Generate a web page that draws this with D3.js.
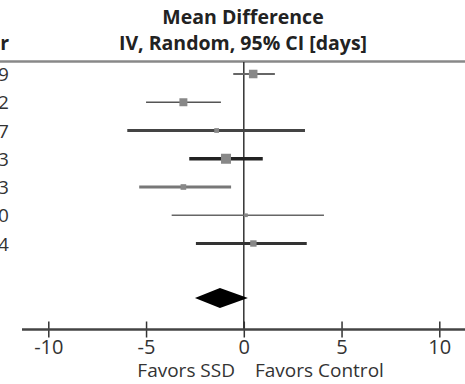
<!DOCTYPE html>
<html>
<head>
<meta charset="utf-8">
<script src="https://cdn.jsdelivr.net/npm/d3@7"></script>
<style>
    html, body { margin: 0; padding: 0; background: #fff; }
    svg { display: block; font-family: "Open Sans", "DejaVu Sans", sans-serif; }
</style>
</head>
<body>
<svg id="chart" width="465" height="384"></svg>
<script>
    "use strict";

    // study rows (only the last digit of the year survives at the left edge)
    var years = ["2009", "2012", "2007", "2013", "2013", "2010", "2014"];
    var means = [0.48, -3.09, -1.39, -0.91, -3.09, 0.11, 0.49];
    var lowers = [-0.54, -5.0, -5.96, -2.79, -5.35, -3.69, -2.45];
    var uppers = [1.59, -1.17, 3.13, 0.97, -0.65, 4.10, 3.22];
    var weights = [16, 14, 5, 22, 7, 3, 9];

    // pooled estimate
    var pooled = { mean: -1.22, lower: -2.50, upper: 0.21 };

    var tickValues = [-10, -5, 0, 5, 10];
    var headerLines = ["Mean Difference", "IV, Random, 95% CI [days]"];
    var favorLeft = "Favors SSD";
    var favorRight = "Favors Control";

    // how heavy each CI line is drawn in the picture
    var lineWidths = [2, 1.6, 3, 3.5, 3, 1.5, 3];
    var lineColors = ["#666", "#555", "#444", "#222", "#777", "#666", "#333"];

    var svg = d3.select("#chart");

    var x = d3.scaleLinear().domain([-10, 10]).range([48.3, 439.3]);
    var y = d3.scaleLinear().domain([0, 8]).range([74, 300]);
    var side = d3.scaleSqrt().domain([0, d3.max(weights)]).range([0, 10]);

    var rows = years.map(function (yr, i) {
        return { year: yr, mean: means[i], lower: lowers[i], upper: uppers[i], weight: weights[i], i: i };
    });

    // header
    var header = svg.append("g")
        .attr("font-weight", "bold")
        .attr("font-size", 19.5)
        .attr("fill", "#222");
    header.selectAll("text")
        .data(headerLines)
        .enter()
        .append("text")
        .attr("x", 243)
        .attr("y", function (d, i) { return 24 + i * 26; })
        .attr("text-anchor", "middle")
        .text(function (d) { return d; });
    header.append("text")
        .attr("x", 9)
        .attr("y", 50)
        .attr("text-anchor", "end")
        .text("Year");

    svg.append("line")
        .attr("x1", 0).attr("x2", 465)
        .attr("y1", 61.5).attr("y2", 61.5)
        .attr("stroke", "#888")
        .attr("stroke-width", 2.5);

    // zero line
    svg.append("line")
        .attr("x1", x(0)).attr("x2", x(0))
        .attr("y1", 62).attr("y2", 330)
        .attr("stroke", "#333")
        .attr("stroke-width", 1.5);

    // year labels, cut off at the left edge
    svg.append("g")
        .attr("font-size", 19)
        .attr("fill", "#333")
        .selectAll("text")
        .data(rows)
        .enter()
        .append("text")
        .attr("x", 9)
        .attr("y", function (d) { return y(d.i) + 7; })
        .attr("text-anchor", "end")
        .text(function (d) { return d.year; });

    var row = svg.append("g")
        .selectAll("g")
        .data(rows)
        .enter()
        .append("g");

    row.append("line")
        .attr("x1", function (d) { return x(d.lower); })
        .attr("x2", function (d) { return x(d.upper); })
        .attr("y1", function (d) { return y(d.i); })
        .attr("y2", function (d) { return y(d.i); })
        .attr("stroke", function (d) { return lineColors[d.i]; })
        .attr("stroke-width", function (d) { return lineWidths[d.i]; });

    row.append("rect")
        .attr("x", function (d) { return x(d.mean) - side(d.weight) / 2; })
        .attr("y", function (d) { return y(d.i) - side(d.weight) / 2; })
        .attr("width", function (d) { return side(d.weight); })
        .attr("height", function (d) { return side(d.weight); })
        .attr("fill", "#888");

    // pooled diamond
    var dy = y(8) - 2;
    svg.append("path")
        .attr("d", "M" + x(pooled.lower) + "," + dy +
            "L" + x(pooled.mean) + "," + (dy - 10) +
            "L" + x(pooled.upper) + "," + dy +
            "L" + x(pooled.mean) + "," + (dy + 10) + "Z")
        .attr("fill", "#000");

    // bottom axis
    var axisY = 329.5;
    var axis = svg.append("g")
        .attr("transform", "translate(0," + axisY + ")")
        .call(d3.axisBottom(x).tickValues(tickValues).tickSize(0)
            .tickFormat(function (d) { return d < 0 ? "-" + Math.abs(d) : d; }));
    axis.select(".domain").remove();
    axis.append("line")
        .attr("x1", 22).attr("x2", 465)
        .attr("stroke", "#444")
        .attr("stroke-width", 2.5);
    axis.selectAll(".tick").append("line")
        .attr("y1", -8).attr("y2", 8)
        .attr("stroke", "#333")
        .attr("stroke-width", 1.5);
    axis.selectAll(".tick text")
        .attr("y", 10)
        .attr("font-size", 20)
        .attr("font-family", "Open Sans, sans-serif")
        .attr("fill", "#333");

    svg.append("g")
        .attr("font-size", 19)
        .attr("fill", "#333")
        .selectAll("text")
        .data([[favorLeft, "end", 235], [favorRight, "start", 255]])
        .enter()
        .append("text")
        .attr("x", function (d) { return d[2]; })
        .attr("y", 377)
        .attr("text-anchor", function (d) { return d[1]; })
        .text(function (d) { return d[0]; });
</script>
</body>
</html>
